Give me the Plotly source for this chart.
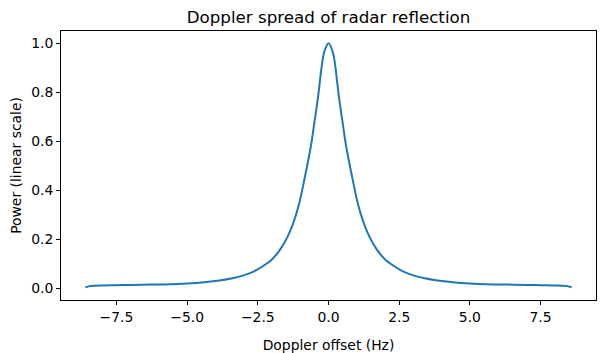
import plotly.graph_objects as go

doppler_hz = [-8.6, -8.45, -8.3, -8.0, -7.5, -7.0, -6.25, -5.6, -5.0, -4.4, -3.85, -3.4,
              -3.0, -2.65, -2.3, -2.0, -1.7, -1.45, -1.25, -1.05, -0.84, -0.61, -0.49,
              -0.37, -0.23, -0.15, 0.0,
              0.15, 0.23, 0.37, 0.49, 0.61, 0.84, 1.05, 1.25, 1.45, 1.7, 2.0, 2.3,
              2.65, 3.0, 3.4, 3.85, 4.4, 5.0, 5.6, 6.25, 7.0, 7.5, 8.0, 8.3, 8.45, 8.6]
power = [0.004, 0.009, 0.011, 0.012, 0.013, 0.014, 0.0155, 0.017, 0.020, 0.025, 0.032, 0.041,
         0.053, 0.068, 0.092, 0.118, 0.160, 0.210, 0.265, 0.340, 0.452, 0.589, 0.684,
         0.78, 0.915, 0.965, 1.0,
         0.965, 0.915, 0.78, 0.684, 0.589, 0.452, 0.340, 0.265, 0.210, 0.160, 0.118, 0.092,
         0.068, 0.053, 0.041, 0.032, 0.025, 0.020, 0.017, 0.0155, 0.014, 0.013, 0.012, 0.011,
         0.009, 0.004]

x_ticks = [-7.5, -5.0, -2.5, 0.0, 2.5, 5.0, 7.5]
y_ticks = [0.0, 0.2, 0.4, 0.6, 0.8, 1.0]

font = "DejaVu Sans"

fig = go.Figure()
fig.add_trace(go.Scatter(x=doppler_hz, y=power, mode="lines",
                         line=dict(color="#1f77b4", width=2, shape="spline", smoothing=1.0),
                         showlegend=False))

axis_common = dict(showgrid=False, zeroline=False, showline=True, mirror=True,
                   linecolor="black", linewidth=1, ticks="outside", ticklen=4,
                   tickcolor="black", tickfont=dict(family=font, size=13.9, color="black"),
                   tickformat=".1f", automargin=False)

fig.update_layout(
    width=613, height=353,
    margin=dict(l=61, r=17, t=31, b=53),
    paper_bgcolor="white", plot_bgcolor="white",
    title=dict(text="Doppler spread of radar reflection", x=0.5, xref="paper",
               y=1 - 17 / 353, yref="container", yanchor="middle",
               font=dict(family=font, size=16.7, color="black")),
    xaxis=dict(range=[-9.46, 9.46], tickvals=x_ticks, **axis_common,
               title=dict(text="Doppler offset (Hz)", standoff=16,
                          font=dict(family=font, size=13.9, color="black"))),
    yaxis=dict(range=[-0.0476, 1.05], tickvals=y_ticks, **axis_common,
               title=dict(text="Power (linear scale)", standoff=6,
                          font=dict(family=font, size=13.9, color="black"))),
)

fig.write_html("out.html")
